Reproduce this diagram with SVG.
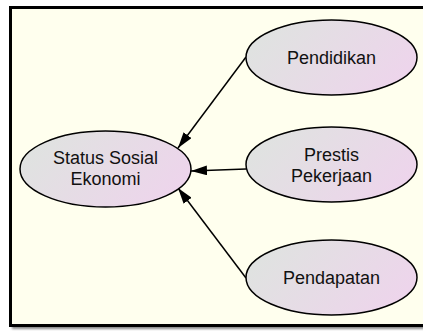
<svg xmlns="http://www.w3.org/2000/svg" width="423" height="332" viewBox="0 0 423 332">
<defs>
<linearGradient id="g" x1="0" y1="0.3" x2="1" y2="0.7">
<stop offset="0" stop-color="#dfe3e0"/>
<stop offset="1" stop-color="#eed4ec"/>
</linearGradient>
<marker id="ah" viewBox="0 0 16 10" refX="16" refY="5" markerWidth="16" markerHeight="10" markerUnits="userSpaceOnUse" orient="auto">
<path d="M0,0 L16,5 L0,10 Z" fill="#000"/>
</marker>
<filter id="sh" x="-5%" y="-5%" width="110%" height="110%">
<feGaussianBlur stdDeviation="1.2"/>
</filter>
</defs>
<style>
.n{fill:url(#g);stroke:#000;stroke-width:1.5}
.t{font-family:"Liberation Sans",Arial,sans-serif;font-size:18px;fill:#111;text-anchor:middle}
.e{stroke:#000;stroke-width:1.5;fill:none;marker-end:url(#ah)}
</style>
<rect x="0" y="0" width="423" height="332" fill="#ffffff"/>
<rect x="12" y="10" width="420" height="319" fill="#888" filter="url(#sh)"/>
<rect x="10.5" y="7.5" width="420" height="318" fill="#ffffee" stroke="#000" stroke-width="3"/>
<g id="edges">
<line class="e" x1="246" y1="57" x2="178" y2="148"/>
<line class="e" x1="246" y1="169" x2="191" y2="171"/>
<line class="e" x1="246" y1="278" x2="178" y2="188"/>
</g>
<g id="status">
<ellipse class="n" cx="105.5" cy="169" rx="85.5" ry="38"/>
<text class="t" x="105.5" y="164">Status Sosial</text>
<text class="t" x="105.5" y="185">Ekonomi</text>
</g>
<g id="pendidikan">
<ellipse class="n" cx="331.5" cy="57.5" rx="85.5" ry="37.5"/>
<text class="t" x="331.5" y="63.5">Pendidikan</text>
</g>
<g id="prestis">
<ellipse class="n" cx="331.5" cy="164.5" rx="85.5" ry="37.5"/>
<text class="t" x="331.5" y="161">Prestis</text>
<text class="t" x="331.5" y="181.5">Pekerjaan</text>
</g>
<g id="pendapatan">
<ellipse class="n" cx="331.5" cy="277.5" rx="85.5" ry="37.5"/>
<text class="t" x="331.5" y="283.5">Pendapatan</text>
</g>
</svg>
